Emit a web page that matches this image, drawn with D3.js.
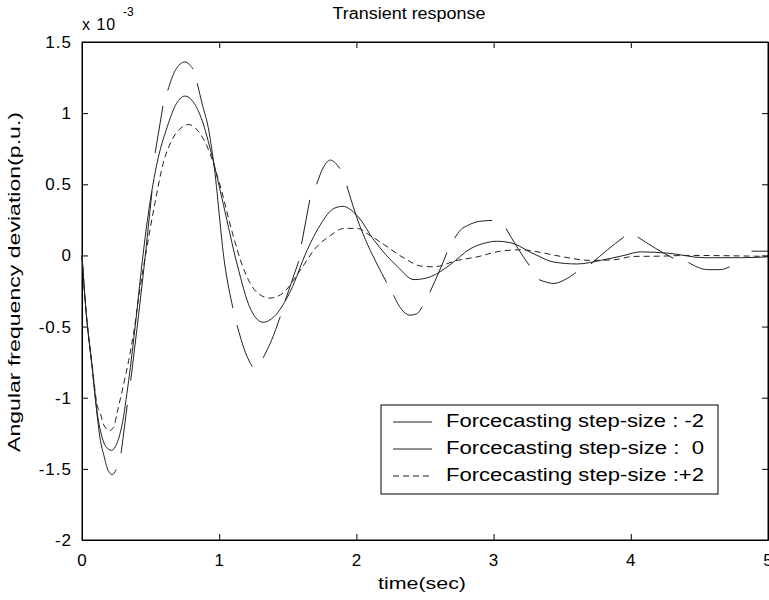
<!DOCTYPE html>
<html><head><meta charset="utf-8">
<script src="https://cdn.jsdelivr.net/npm/d3@7"></script>
<style>
body{margin:0;background:#fff}
svg{display:block}
text{font-family:"Liberation Sans",Arial,Helvetica,sans-serif;fill:#000}
</style>
</head><body>
<svg id="c" width="769" height="600"></svg>
<script>
// ---- data (values in units of 1e-3 p.u.) ----
const xTicks = [0, 1, 2, 3, 4, 5];
const xTickLabels = ["0", "1", "2", "3", "4", "5"];
const yTicks = [-2, -1.5, -1, -0.5, 0, 0.5, 1, 1.5];
const yTickLabels = ["-2", "-1.5", "-1", "-0.5", "0", "0.5", "1", "1.5"];
const legendLabels = ["Forcecasting step-size : -2", "Forcecasting step-size :  0", "Forcecasting step-size :+2"];

// step-size -2 (broken curve; null marks a break)
const tA = [0,0.025,0.075,0.11,0.134,0.158,0.19,0.22,0.25,null,
  0.285,0.33,null,
  0.355,0.40,0.45,0.51,null,
  0.533,0.59,null,
  0.625,0.68,0.75,0.81,null,
  0.84,0.88,0.92,0.96,1.04,1.10,null,
  1.13,1.19,1.24,null,
  1.32,1.38,1.445,null,
  1.48,1.58,null,
  1.60,1.66,null,
  1.71,1.76,1.81,1.88,null,
  1.93,2.02,2.08,2.15,2.22,null,
  2.27,2.33,2.39,2.44,2.48,null,
  2.535,2.60,2.66,null,
  2.715,2.76,2.81,2.9,2.99,null,
  3.09,3.17,3.26,null,
  3.33,3.44,3.52,3.6,null,
  3.71,3.83,3.95,null,
  4.05,4.18,4.31,null,
  4.42,4.56,4.65,4.72,null,
  4.88,5.0];
const vA = [0,-0.34,-0.8,-1.12,-1.3,-1.4,-1.51,-1.54,-1.505,null,
  -1.39,-1.05,null,
  -0.88,-0.52,-0.1,0.45,null,
  0.72,1.05,null,
  1.16,1.30,1.36,1.31,null,
  1.21,1.05,0.9,0.65,-0.06,-0.37,null,
  -0.49,-0.68,-0.78,null,
  -0.72,-0.6,-0.43,null,
  -0.32,-0.04,null,
  0.08,0.39,null,
  0.50,0.62,0.67,0.61,null,
  0.49,0.22,0.08,-0.06,-0.19,null,
  -0.28,-0.38,-0.42,-0.41,-0.36,null,
  -0.26,-0.12,0.02,null,
  0.12,0.18,0.21,0.24,0.246,null,
  0.19,0.06,-0.07,null,
  -0.17,-0.197,-0.17,-0.12,null,
  -0.06,0.04,0.13,null,
  0.13,0.05,-0.02,null,
  -0.05,-0.1,-0.1,-0.08,null,
  0.03,0.03];

// step-size 0
const tB = [0,0.025,0.075,0.11,0.15,0.19,0.215,0.25,0.29,0.34,0.39,0.43,0.47,0.545,0.62,0.69,0.75,0.81,0.875,0.945,
  1.03,1.13,1.23,1.32,1.40,1.52,1.64,1.74,1.835,1.90,2.005,2.13,2.30,2.42,2.54,2.69,2.83,2.95,3.02,3.12,
  3.295,3.44,3.61,3.78,3.95,4.07,4.27,4.535,4.80,5.0];
const vB = [0,-0.34,-0.79,-1.1,-1.29,-1.36,-1.37,-1.33,-1.2,-0.88,-0.48,-0.12,0.2,0.64,0.9,1.07,1.12,1.08,0.95,0.71,
  0.36,-0.06,-0.38,-0.47,-0.43,-0.25,0.035,0.22,0.33,0.345,0.28,0.105,-0.08,-0.17,-0.15,-0.06,0.047,0.09,0.1,0.09,
  0.01,-0.047,-0.06,-0.035,0,0.025,0.016,-0.016,-0.016,-0.01];

// step-size +2
const tC = [0,0.025,0.075,0.11,0.134,0.158,0.2,0.23,0.255,0.30,0.34,0.377,0.42,0.47,0.53,0.59,0.655,0.715,0.776,0.85,
  0.91,1.01,1.09,1.18,1.275,1.37,1.47,1.59,1.71,1.81,1.91,2.005,2.10,2.18,2.35,2.47,2.565,2.735,2.88,3.05,
  3.2,3.37,3.49,3.71,3.88,4.02,4.22,4.41,5.0];
const vC = [0,-0.34,-0.78,-1.05,-1.11,-1.19,-1.23,-1.21,-1.11,-0.92,-0.74,-0.54,-0.25,0.04,0.36,0.64,0.81,0.89,0.92,0.87,
  0.77,0.48,0.18,-0.1,-0.26,-0.30,-0.26,-0.105,0.06,0.14,0.19,0.19,0.14,0.09,-0.02,-0.075,-0.08,-0.035,-0.01,0.03,
  0.04,0.016,-0.007,-0.035,-0.03,-0.007,-0.005,0,-0.007];

// ---- layout ----
const L = 82, R = 768, T = 42, B = 540;
const svg = d3.select("#c");
const x = d3.scaleLinear().domain([0, 5]).range([L, R]);
const y = d3.scaleLinear().domain([-2, 1.5]).range([B, T]);

const tickFont = "17px";

// axes
svg.append("g").attr("transform", `translate(0,${B})`)
  .call(d3.axisBottom(x).tickValues(xTicks).tickFormat((d,i)=>xTickLabels[i]).tickSizeInner(-6).tickSizeOuter(0).tickPadding(14));
svg.append("g").attr("transform", `translate(${L},0)`)
  .call(d3.axisLeft(y).tickValues(yTicks).tickFormat((d,i)=>yTickLabels[i]).tickSizeInner(-6).tickSizeOuter(0).tickPadding(10));
svg.append("g").attr("transform", `translate(0,${T})`)
  .call(d3.axisTop(x).tickValues(xTicks).tickFormat("").tickSizeInner(-6).tickSizeOuter(0));
svg.append("g").attr("transform", `translate(${R},0)`)
  .call(d3.axisRight(y).tickValues(yTicks).tickFormat("").tickSizeInner(-6).tickSizeOuter(0));
svg.selectAll(".domain, .tick line").attr("stroke", "#000").attr("stroke-width", 1);
svg.selectAll(".tick text").style("font-size", tickFont).style("letter-spacing", "1px").attr("fill", "#000");

// plot box
svg.append("rect").attr("x", L).attr("y", T).attr("width", R - L).attr("height", B - T)
  .attr("fill", "none").attr("stroke", "#000").attr("stroke-width", 1);

// lines
const mk = (ts, vs) => ts.map((t, i) => ({t: t, v: vs[i]}));
const line = d3.line().defined(d => d.v !== null && d.t !== null)
  .x(d => x(d.t)).y(d => y(d.v)).curve(d3.curveMonotoneX);
const plot = svg.append("g");
plot.append("path").datum(mk(tC, vC)).attr("d", line)
  .attr("fill", "none").attr("stroke", "#222").attr("stroke-width", 1).attr("stroke-dasharray", "6,4");
plot.append("path").datum(mk(tB, vB)).attr("d", line)
  .attr("fill", "none").attr("stroke", "#222").attr("stroke-width", 1);
plot.append("path").datum(mk(tA, vA)).attr("d", line)
  .attr("fill", "none").attr("stroke", "#222").attr("stroke-width", 1);

// exponent label
svg.append("text").attr("x", 82).attr("y", 30).style("font-size", "16px").style("letter-spacing","1px").text("x 10");
svg.append("text").attr("x", 123).attr("y", 16).style("font-size", "12px").text("-3");

// title & labels
svg.append("text").attr("x", 409).attr("y", 19).attr("text-anchor", "middle")
  .style("font-size", "16px").attr("textLength", 153).attr("lengthAdjust", "spacingAndGlyphs").text("Transient response");
svg.append("text").attr("x", 422).attr("y", 589).attr("text-anchor", "middle")
  .style("font-size", "17px").attr("textLength", 88).attr("lengthAdjust", "spacingAndGlyphs").text("time(sec)");
svg.append("text").attr("transform", "translate(20,282) rotate(-90)").attr("text-anchor", "middle")
  .style("font-size", "17px").attr("textLength", 340).attr("lengthAdjust", "spacingAndGlyphs").text("Angular frequency deviation(p.u.)");

// legend
const lg = svg.append("g");
lg.append("rect").attr("x", 381).attr("y", 405).attr("width", 337).attr("height", 89)
  .attr("fill", "#fff").attr("stroke", "#000").attr("stroke-width", 1);
const dashes = [null, null, "6,4"];
legendLabels.forEach((lab, i) => {
  const cy = 420 + i * 27;
  lg.append("line").attr("x1", 393).attr("x2", 432).attr("y1", cy + 2).attr("y2", cy + 2)
    .attr("stroke", "#222").attr("stroke-width", 1).attr("stroke-dasharray", dashes[i]);
  lg.append("text").attr("x", 446).attr("y", cy + 7).style("font-size", "18px")
    .attr("xml:space", "preserve").style("white-space", "pre")
    .attr("textLength", 258).attr("lengthAdjust", "spacingAndGlyphs").text(lab);
});
</script>
</body></html>
